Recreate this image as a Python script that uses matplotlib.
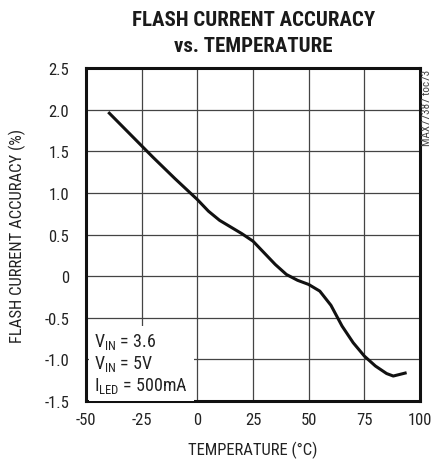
import numpy as np
import matplotlib
matplotlib.use("Agg")
import matplotlib.pyplot as plt

# data
temp = [-40, -30, -20, -10, 0, 5, 10, 15, 20, 25, 30, 35, 40, 45, 50, 55, 60, 65, 70, 75, 80, 85, 88, 94]
accuracy = [1.97, 1.70, 1.43, 1.17, 0.92, 0.78, 0.67, 0.59, 0.51, 0.42, 0.28, 0.14, 0.02, -0.05, -0.10,
            -0.18, -0.35, -0.60, -0.80, -0.96, -1.08, -1.17, -1.20, -1.16]

xticks = [-50, -25, 0, 25, 50, 75, 100]
yticks = [-1.5, -1.0, -0.5, 0, 0.5, 1.0, 1.5, 2.0, 2.5]
ytick_labels = ['-1.5', '-1.0', '-0.5', '0', '0.5', '1.0', '1.5', '2.0', '2.5']
xtick_labels = ['-50', '-25', '0', '25', '50', '75', '100']

plt.rcParams["font.family"] = ["Roboto Condensed", "DejaVu Sans"]
plt.rcParams["axes.unicode_minus"] = False

fig = plt.figure(figsize=(4.35, 4.64), dpi=100)
ax = fig.add_axes([0.1977, 0.1336, 0.7678, 0.7177])

ax.plot(temp, accuracy, color='#111111', linewidth=2.2, solid_capstyle='butt')

ax.set_xlim(-50, 100)
ax.set_ylim(-1.5, 2.5)
ax.set_xticks(xticks)
ax.set_xticklabels(xtick_labels)
ax.set_yticks(yticks)
ax.set_yticklabels(ytick_labels)
ax.tick_params(length=0, labelsize=12, colors='#222222')
ax.tick_params(axis='x', pad=8)
ax.tick_params(axis='y', pad=12)
ax.grid(True, color='#444444', linewidth=0.9)
ax.set_axisbelow(True)
for s in ax.spines.values():
    s.set_linewidth(2.2)
    s.set_color('#111111')

ax.set_xlabel("TEMPERATURE (°C)", fontsize=12, color='#222222', labelpad=10)
ax.set_ylabel("FLASH CURRENT ACCURACY (%)", fontsize=12, color='#222222', labelpad=13)

fig.text(0.582, 0.976, "FLASH CURRENT ACCURACY\nvs. TEMPERATURE", ha='center', va='top',
         fontsize=15, fontweight='bold', linespacing=1.45, color='#1a1a1a')

fig.text(0.981, 0.85, "MAX77387 toc73", rotation=90, ha='center', va='top', fontsize=8,
         color='#444444')

ax.text(0.025, 0.018, "V$_{\\mathregular{IN}}$ = 3.6\nV$_{\\mathregular{IN}}$ = 5V\nI$_{\\mathregular{LED}}$ = 500mA",
        transform=ax.transAxes, ha='left', va='bottom', fontsize=13, linespacing=1.12,
        color='#222222',
        bbox=dict(facecolor='white', edgecolor='none', pad=4))

fig.savefig("out.png", dpi=100)
